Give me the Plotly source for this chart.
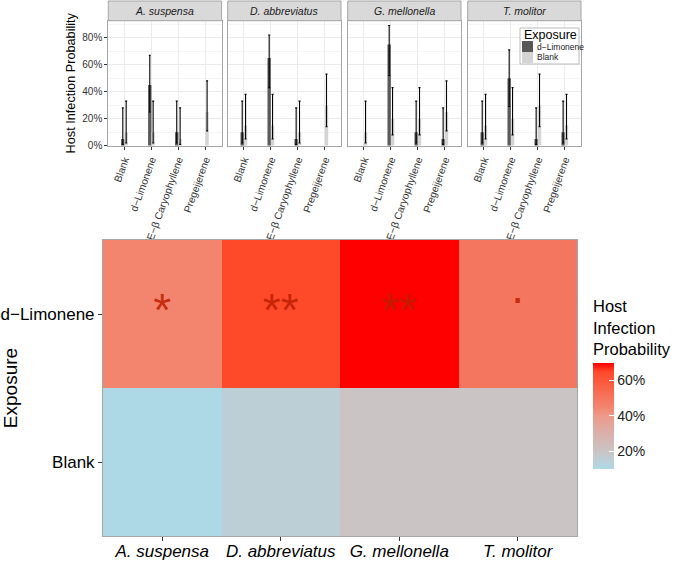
import plotly.graph_objects as go

W, H = 675, 563

species = ["A. suspensa", "D. abbreviatus", "G. mellonella", "T. molitor"]
compounds = ["Blank", "d−Limonene", "E−β Caryophyllene", "Pregeijerene"]

# host infection probability (and CI) by compound, for each species / exposure
# None = no bar
asus_dlim = [0.05, 0.45, 0.10, None]
asus_dlim_lo = [0.01, 0.25, 0.02, None]
asus_dlim_hi = [0.28, 0.67, 0.33, None]
asus_blank = [0.10, 0.10, 0.05, 0.25]
asus_blank_lo = [0.02, 0.02, 0.01, 0.11]
asus_blank_hi = [0.33, 0.33, 0.28, 0.48]

dabb_dlim = [0.10, 0.65, 0.05, None]
dabb_dlim_lo = [0.02, 0.43, 0.01, None]
dabb_dlim_hi = [0.33, 0.82, 0.28, None]
dabb_blank = [0.15, 0.15, 0.10, 0.30]
dabb_blank_lo = [0.05, 0.05, 0.02, 0.14]
dabb_blank_hi = [0.38, 0.38, 0.33, 0.53]

gmel_dlim = [None, 0.75, 0.10, 0.05]
gmel_dlim_lo = [None, 0.52, 0.02, 0.01]
gmel_dlim_hi = [None, 0.89, 0.33, 0.28]
gmel_blank = [0.10, 0.20, 0.20, 0.25]
gmel_blank_lo = [0.02, 0.08, 0.08, 0.11]
gmel_blank_hi = [0.33, 0.43, 0.43, 0.48]

tmol_dlim = [0.10, 0.50, 0.05, 0.10]
tmol_dlim_lo = [0.02, 0.29, 0.01, 0.02]
tmol_dlim_hi = [0.33, 0.71, 0.28, 0.33]
tmol_blank = [0.15, 0.20, 0.30, 0.15]
tmol_blank_lo = [0.05, 0.08, 0.14, 0.05]
tmol_blank_hi = [0.38, 0.43, 0.53, 0.38]

# heatmap: infection probability by species and exposure
heat_dlim = [0.45, 0.65, 0.70, 0.50]
heat_blank = [0.10, 0.15, 0.20, 0.20]
signif = ["*", "**", "**", "."]

panels = [
    (asus_dlim, asus_dlim_lo, asus_dlim_hi, asus_blank, asus_blank_lo, asus_blank_hi),
    (dabb_dlim, dabb_dlim_lo, dabb_dlim_hi, dabb_blank, dabb_blank_lo, dabb_blank_hi),
    (gmel_dlim, gmel_dlim_lo, gmel_dlim_hi, gmel_blank, gmel_blank_lo, gmel_blank_hi),
    (tmol_dlim, tmol_dlim_lo, tmol_dlim_hi, tmol_blank, tmol_blank_lo, tmol_blank_hi),
]

FONT = "Liberation Sans, Arial, Helvetica, sans-serif"
DARK = "#595959"
LIGHT = "#D4D4D4"
BORDER = "#A6A6A6"


def px_x(p):
    return p / W


def px_y(p):
    return 1 - p / H


def err(vals, lo, hi):
    plus = [None if v is None else h - v for v, h in zip(vals, hi)]
    minus = [None if v is None else v - l for v, l in zip(vals, lo)]
    return dict(type="data", array=plus, arrayminus=minus, color="black",
                thickness=1.1, width=1, symmetric=False)


fig = go.Figure()

panel_left = [108.3, 227.7, 347.7, 467.7]
panel_w = 113.3
strip_top, panel_top, panel_bot = 1, 20.7, 145.7

layout = {}
for i, (d, dlo, dhi, b, blo, bhi) in enumerate(panels):
    sfx = "" if i == 0 else str(i + 1)
    fig.add_trace(go.Bar(x=compounds, y=d, name="d−Limonene", marker_color=DARK,
                         marker_line_width=0, error_y=err(d, dlo, dhi),
                         xaxis="x" + sfx, yaxis="y" + sfx, showlegend=False))
    fig.add_trace(go.Bar(x=compounds, y=b, name="Blank", marker_color=LIGHT,
                         marker_line_width=0, error_y=err(b, blo, bhi),
                         xaxis="x" + sfx, yaxis="y" + sfx, showlegend=False))
    x0 = panel_left[i]
    layout["xaxis" + sfx] = dict(
        domain=[px_x(x0), px_x(x0 + panel_w)], anchor="y" + sfx, automargin=False,
        range=[-0.6, 3.6], tickangle=-70, ticks="outside", ticklen=3,
        tickcolor="#333", tickfont=dict(size=10.3, color="#333"),
        showgrid=True, gridcolor="#EBEBEB", showline=True, mirror=True,
        linecolor=BORDER, linewidth=1, zeroline=False)
    layout["yaxis" + sfx] = dict(
        domain=[px_y(panel_bot), px_y(panel_top)], anchor="x" + sfx, automargin=False,
        range=[0, 0.926], tickvals=[0, 0.2, 0.4, 0.6, 0.8], tickformat=".0%",
        showticklabels=(i == 0), ticks="outside" if i == 0 else "",
        ticklen=3, tickcolor="#333", tickfont=dict(size=10, color="#333"),
        gridcolor="#EBEBEB", minor=dict(dtick=0.1, showgrid=True, gridcolor="#F5F5F5"),
        showline=True, mirror=True, linecolor=BORDER, linewidth=1, zeroline=False,
        **({"title": dict(text="Host Infection Probability",
                          font=dict(size=12.7, color="black"), standoff=3)} if i == 0 else {}),
    )
    if i > 0:
        layout["yaxis" + sfx]["matches"] = "y"

# heatmap (colour stops for a 10%..70% range)
colorscale = [[0, "#ADD8E6"], [0.083, "#BCCFD6"], [0.167, "#CAC4C5"], [0.333, "#DAB0AA"],
              [0.5, "#EC9A8A"], [0.583, "#F3846E"], [0.667, "#F5765E"],
              [0.917, "#FF4A2A"], [1, "#FF0000"]]
fig.add_trace(go.Heatmap(
    x=species, y=["Blank", "d−Limonene"], z=[heat_blank, heat_dlim],
    zmin=min(heat_blank + heat_dlim), zmax=max(heat_blank + heat_dlim),
    colorscale=colorscale, xaxis="x5", yaxis="y5", hoverinfo="skip",
    colorbar=dict(
        title=dict(text="Host<br>Infection<br>Probability", side="top",
                   font=dict(size=16.5, color="black")),
        thickness=21, len=172, lenmode="pixels",
        x=px_x(593), xanchor="left", xpad=0, y=px_y(469), yanchor="bottom", ypad=0,
        tickvals=[0.2, 0.4, 0.6], tickformat=".0%", ticks="inside", ticklen=5,
        tickcolor="white", outlinewidth=0, tickfont=dict(size=14, color="#222"),
    ),
))
fig.add_trace(go.Scatter(
    x=species, y=["d−Limonene"] * 4, text=signif, mode="text",
    textposition=["middle center", "middle center", "middle center", "top center"],
    textfont=dict(size=46, color="rgba(190,30,0,0.85)", family=FONT),
    xaxis="x5", yaxis="y5", showlegend=False, hoverinfo="skip"))

layout["xaxis5"] = dict(domain=[px_x(103), px_x(577)], anchor="y5", automargin=False,
                        ticks="outside", ticklen=4, tickcolor="#333", ticklabelstandoff=-4,
                        tickfont=dict(size=17, color="black", style="italic"),
                        showline=True, mirror=True, linecolor=BORDER, showgrid=False)
layout["yaxis5"] = dict(domain=[px_y(536), px_y(240)], anchor="x5", automargin=False,
                        ticks="outside", ticklen=4, tickcolor="#333",
                        tickfont=dict(size=17, color="black"),
                        title=dict(text="Exposure", font=dict(size=19, color="black"), standoff=8),
                        showline=True, mirror=True, linecolor=BORDER, showgrid=False)

# facet strips
shapes, annotations = [], []
for i, sp in enumerate(species):
    x0 = panel_left[i]
    shapes.append(dict(type="rect", xref="paper", yref="paper",
                       x0=px_x(x0), x1=px_x(x0 + panel_w),
                       y0=px_y(panel_top), y1=px_y(strip_top),
                       fillcolor="#D9D9D9", line=dict(color=BORDER, width=1)))
    annotations.append(dict(xref="paper", yref="paper", x=px_x(x0 + panel_w / 2),
                            y=px_y((strip_top + panel_top) / 2), text=sp, showarrow=False,
                            xanchor="center", yanchor="middle",
                            font=dict(size=10.5, color="#1A1A1A", style="italic")))

# legend box drawn inside the T. molitor panel, like the original
leg_x, leg_y = 520, 28
shapes.append(dict(type="rect", xref="paper", yref="paper",
                   x0=px_x(leg_x), x1=px_x(leg_x + 59), y0=px_y(leg_y + 36), y1=px_y(leg_y),
                   fillcolor="white", line=dict(color="#BBBBBB", width=1)))
annotations.append(dict(xref="paper", yref="paper", x=px_x(leg_x + 2), y=px_y(leg_y + 7),
                        text="Exposure", showarrow=False, xanchor="left", yanchor="middle",
                        font=dict(size=12.5, color="black")))
for k, (name, col) in enumerate([("d−Limonene", DARK), ("Blank", LIGHT)]):
    top = leg_y + 13 + 11 * k
    shapes.append(dict(type="rect", xref="paper", yref="paper",
                       x0=px_x(leg_x + 2), x1=px_x(leg_x + 13), y0=px_y(top + 11), y1=px_y(top),
                       fillcolor=col, line=dict(width=0)))
    annotations.append(dict(xref="paper", yref="paper", x=px_x(leg_x + 15),
                            y=px_y(top + 5.5), text=name, showarrow=False,
                            xanchor="left", yanchor="middle",
                            font=dict(size=8.5, color="#222")))

fig.update_layout(
    width=W, height=H, margin=dict(l=0, r=0, t=0, b=0),
    paper_bgcolor="white", plot_bgcolor="white",
    font=dict(family=FONT, color="black"),
    barmode="group", bargap=0.75, bargroupgap=0,
    shapes=shapes, annotations=annotations, showlegend=False,
    **layout,
)

# page body margin would shift the whole figure by 8px
fig.write_html("out.html", config={"displayModeBar": False},
               post_script="document.body.style.margin='0px';")
